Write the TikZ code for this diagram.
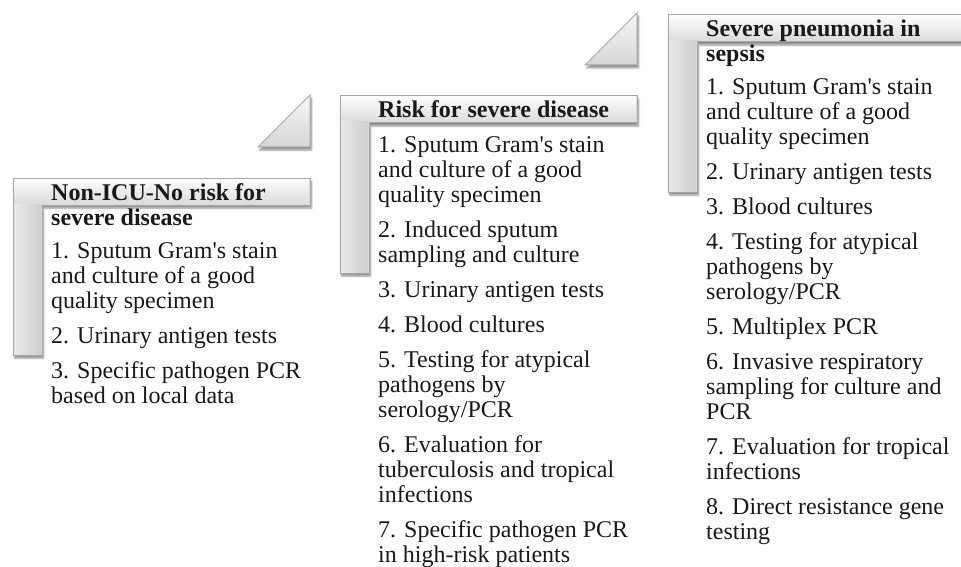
\documentclass[tikz,border=0pt]{standalone}
\usepackage{fontspec}
\setmainfont{Liberation Serif}
\usetikzlibrary{shadows.blur}

\begin{document}
\begin{tikzpicture}[x=1pt, y=-1pt,
    stepbar/.style={draw=black!35, line width=1pt, fill=black!14,
      blur shadow={shadow xshift=1.5pt, shadow yshift=-3pt, shadow blur steps=6, shadow opacity=45}},
    stepglow/.style={top color=black!1, bottom color=black!14},
    stepside/.style={left color=black!9, right color=black!19},
    steptri/.style={draw=black!35, line width=1pt, top color=black!3, bottom color=black!16,
      blur shadow={shadow xshift=1.5pt, shadow yshift=-3pt, shadow blur steps=6, shadow opacity=45}},
    heading/.style={anchor=base west, inner sep=0pt, text=black!90,
      font=\fontsize{24}{25}\selectfont\bfseries},
    itemlist/.style={anchor=base west, inner sep=0pt, text=black!90,
      font=\fontsize{24}{25}\selectfont}]
    \useasboundingbox (0,0) rectangle (961,567);

    % Top left corner of each step
    \pgfmathsetmacro{\oxA}{13}
    \pgfmathsetmacro{\oyA}{178}
    \pgfmathsetmacro{\oxB}{340}
    \pgfmathsetmacro{\oyB}{96}
    \pgfmathsetmacro{\oxC}{668}
    \pgfmathsetmacro{\oyC}{15}

    % Draw the steps
    \draw[stepbar] (\oxA,\oyA) -- ++(297,0) -- ++(0,27) -- ++(-268,0) -- ++(0,150) -- ++(-29,0) -- cycle;
    \shade[stepglow] (\oxA+1,\oyA+1) rectangle (\oxA+296,\oyA+26);
    \shade[stepside] (\oxA+1,\oyA+26) rectangle (\oxA+28,\oyA+176);
    \draw[stepbar] (\oxB,\oyB) -- ++(297,0) -- ++(0,27) -- ++(-268,0) -- ++(0,150) -- ++(-29,0) -- cycle;
    \shade[stepglow] (\oxB+1,\oyB+1) rectangle (\oxB+296,\oyB+26);
    \shade[stepside] (\oxB+1,\oyB+26) rectangle (\oxB+28,\oyB+176);
    \draw[stepbar] (\oxC,\oyC) -- ++(297,0) -- ++(0,27) -- ++(-268,0) -- ++(0,150) -- ++(-29,0) -- cycle;
    \shade[stepglow] (\oxC+1,\oyC+1) rectangle (\oxC+296,\oyC+26);
    \shade[stepside] (\oxC+1,\oyC+26) rectangle (\oxC+28,\oyC+176);

    % Small triangles between the steps
    \draw[steptri] (\oxA+245,\oyA-31) -- (\oxA+297,\oyA-31) -- (\oxA+297,\oyA-83) -- cycle;
    \draw[steptri] (\oxB+245,\oyB-31) -- (\oxB+297,\oyB-31) -- (\oxB+297,\oyB-83) -- cycle;

    % Headings (tabular[t] keeps the base on the first line)
    \node[heading] (headA) at (\oxA+38,\oyA+22) {\begin{tabular}[t]{@{}l@{}}Non-ICU-No risk for\\severe disease\end{tabular}};
    \node[heading] (headB) at (\oxB+38,\oyB+22) {Risk for severe disease};
    \node[heading] (headC) at (\oxC+38,\oyC+22) {\begin{tabular}[t]{@{}l@{}}Severe pneumonia in\\sepsis\end{tabular}};

    % Lists of tests
    \node[itemlist] (listA) at (\oxA+38,\oyA+80) {\begin{tabular}[t]{@{}l@{}}
      1. Sputum Gram\textquotesingle s stain\\and culture of a good\\quality specimen\\[10pt]
      2. Urinary antigen tests\\[10pt]
      3. Specific pathogen PCR\\based on local data
    \end{tabular}};
    \node[itemlist] (listB) at (\oxB+38,\oyB+57) {\begin{tabular}[t]{@{}l@{}}
      1. Sputum Gram\textquotesingle s stain\\and culture of a good\\quality specimen\\[10pt]
      2. Induced sputum\\sampling and culture\\[10pt]
      3. Urinary antigen tests\\[10pt]
      4. Blood cultures\\[10pt]
      5. Testing for atypical\\pathogens by\\serology/PCR\\[10pt]
      6. Evaluation for\\tuberculosis and tropical\\infections\\[10pt]
      7. Specific pathogen PCR\\in high-risk patients
    \end{tabular}};
    \node[itemlist] (listC) at (\oxC+38,\oyC+80) {\begin{tabular}[t]{@{}l@{}}
      1. Sputum Gram\textquotesingle s stain\\and culture of a good\\quality specimen\\[10pt]
      2. Urinary antigen tests\\[10pt]
      3. Blood cultures\\[10pt]
      4. Testing for atypical\\pathogens by\\serology/PCR\\[10pt]
      5. Multiplex PCR\\[10pt]
      6. Invasive respiratory\\sampling for culture and\\PCR\\[10pt]
      7. Evaluation for tropical\\infections\\[10pt]
      8. Direct resistance gene\\testing
    \end{tabular}};
\end{tikzpicture}
\end{document}
